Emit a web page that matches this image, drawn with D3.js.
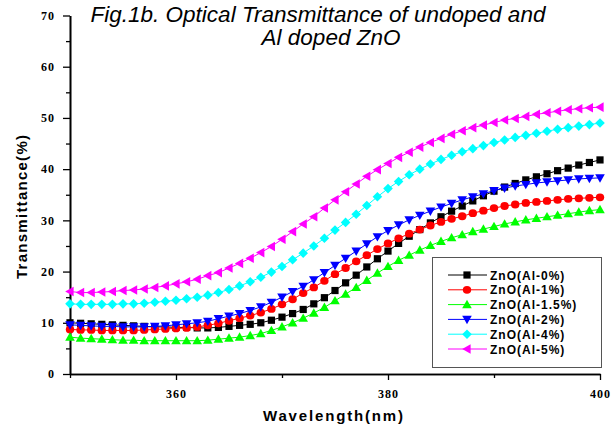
<!DOCTYPE html>
<html><head><meta charset="utf-8">
<script src="https://cdn.jsdelivr.net/npm/d3@7/dist/d3.min.js"></script>
<style>body{margin:0;background:#fff}svg{display:block}</style>
</head><body><svg id="c" width="612" height="427"></svg>
<script>
const wavelength = [350,351,352,353,354,355,356,357,358,359,360,361,362,363,364,365,366,367,368,369,370,371,372,373,374,375,376,377,378,379,380,381,382,383,384,385,386,387,388,389,390,391,392,393,394,395,396,397,398,399,400];
const al0  = [10.0,9.9,9.8,9.7,9.6,9.5,9.4,9.3,9.2,9.2,9.1,9.1,9.0,9.0,9.1,9.3,9.5,9.7,10.0,10.5,11.1,11.8,12.6,13.7,14.9,16.3,17.8,19.3,20.9,22.5,24.0,25.5,26.9,28.2,29.5,30.7,31.8,32.8,33.8,34.8,35.7,36.5,37.2,37.9,38.5,39.1,39.7,40.2,40.8,41.3,41.8];
const al1  = [8.7,8.6,8.6,8.5,8.5,8.5,8.5,8.6,8.7,8.8,8.9,9.0,9.2,9.5,9.9,10.4,10.9,11.4,12.0,12.7,13.6,14.6,15.8,16.9,18.2,19.5,20.7,22.0,23.2,24.4,25.5,26.5,27.4,28.2,29.0,29.7,30.3,30.8,31.4,31.9,32.4,32.8,33.1,33.4,33.6,33.8,34.0,34.2,34.3,34.4,34.5];
const al15 = [7.2,7.0,6.9,6.8,6.7,6.6,6.6,6.5,6.5,6.5,6.5,6.5,6.5,6.6,6.8,7.0,7.2,7.5,7.9,8.5,9.2,10.0,10.9,11.9,13.0,14.3,15.6,16.9,18.3,19.7,21.0,22.2,23.2,24.2,25.1,25.9,26.6,27.2,27.8,28.3,28.8,29.3,29.7,30.1,30.4,30.7,31.0,31.3,31.6,31.9,32.1];
const al2  = [9.6,9.5,9.4,9.3,9.3,9.2,9.2,9.2,9.3,9.4,9.6,9.8,10.0,10.3,10.8,11.3,11.8,12.4,13.1,14.0,15.0,16.1,17.1,18.4,19.8,21.2,22.6,24.0,25.4,26.8,28.0,29.1,30.1,31.0,31.8,32.6,33.3,34.0,34.6,35.2,35.8,36.3,36.7,37.0,37.3,37.5,37.7,37.9,38.1,38.2,38.3];
const al4  = [13.7,13.6,13.6,13.6,13.6,13.7,13.7,13.8,14.0,14.2,14.4,14.7,15.0,15.4,15.9,16.5,17.2,18.0,18.9,19.9,21.0,22.3,23.6,25.0,26.5,28.1,29.6,31.2,32.9,34.6,36.2,37.6,38.9,40.0,41.0,41.9,42.7,43.4,44.0,44.6,45.2,45.7,46.2,46.6,47.0,47.4,47.8,48.1,48.4,48.7,49.0];
const al5  = [16.1,15.9,15.9,16.0,16.1,16.3,16.4,16.6,16.9,17.2,17.6,18.0,18.5,19.2,19.8,20.7,21.6,22.6,23.7,24.9,26.3,27.8,29.3,30.7,32.4,34.0,35.6,37.1,38.6,39.9,41.1,42.3,43.3,44.3,45.2,46.0,46.8,47.5,48.1,48.6,49.1,49.6,49.9,50.3,50.7,51.0,51.3,51.6,51.8,52.0,52.1];
const seriesNames  = ["ZnO(Al-0%)","ZnO(Al-1%)","ZnO(Al-1.5%)","ZnO(Al-2%)","ZnO(Al-4%)","ZnO(Al-5%)"];
const seriesValues = [al0, al1, al15, al2, al4, al5];
const seriesColors = ["#000000","#ff0000","#00ff00","#0000ff","#00ffff","#ff00ff"];
const seriesShapes = ["square","circle","triUp","triDown","diamond","triLeft"];
const xMajorTicks = [360,380,400];
const xMinorTicks = [350,370,390];
const yMajorTicks = [0,10,20,30,40,50,60,70];
const yMinorTicks = [5,15,25,35,45,55,65];
const titleLines = ["Fig.1b. Optical Transmittance of undoped and","Al doped ZnO"];

const svg = d3.select("#c");
svg.append("rect").attr("width",612).attr("height",427).attr("fill","#fff");
const x = d3.scaleLinear().domain([350,400]).range([70,600]);
const y = d3.scaleLinear().domain([0,70]).range([374,15.5]);

function shapePath(s){
  switch(s){
    case "square": return "M-3.6,-3.6H3.6V3.6H-3.6Z";
    case "circle": return "M-4.2,0A4.2,3.9 0 1,0 4.2,0A4.2,3.9 0 1,0 -4.2,0Z";
    case "triUp": return "M0,-4.8L4.8,3.6L-4.8,3.6Z";
    case "triDown": return "M0,4.8L4.8,-3.6L-4.8,-3.6Z";
    case "diamond": return "M0,-4.8L4.8,0L0,4.8L-4.8,0Z";
    case "triLeft": return "M-4.8,0L3.6,-4.8L3.6,4.8Z";
  }
}

// axes
const axY = svg.append("g").attr("transform","translate(70,0)")
  .call(d3.axisLeft(y).tickValues(yMajorTicks).tickSize(7).tickSizeOuter(0).tickPadding(8));
const axYm = svg.append("g").attr("transform","translate(70,0)")
  .call(d3.axisLeft(y).tickValues(yMinorTicks).tickSize(4).tickSizeOuter(0).tickFormat(""));
const axX = svg.append("g").attr("transform","translate(0,374)")
  .call(d3.axisBottom(x).tickValues(xMajorTicks).tickSize(6).tickSizeOuter(0).tickPadding(9));
const axXm = svg.append("g").attr("transform","translate(0,374)")
  .call(d3.axisBottom(x).tickValues(xMinorTicks).tickSize(4).tickSizeOuter(0).tickFormat(""));
[axY,axYm,axX,axXm].forEach(a=>{
  a.selectAll("path.domain").attr("stroke","#000").attr("stroke-width",1.6);
  a.selectAll(".tick line").attr("stroke","#000").attr("stroke-width",1.3);
  a.selectAll(".tick text").attr("font-family","'Liberation Serif', serif").attr("font-weight","bold")
    .attr("font-size",12).attr("letter-spacing","1px").attr("fill","#000");
});

// series
const line = d3.line().x((d,i)=>x(wavelength[i])).y(d=>y(d));
seriesValues.forEach((vals,k)=>{
  const g = svg.append("g");
  g.append("path").datum(vals).attr("d",line).attr("fill","none")
    .attr("stroke",seriesColors[k]).attr("stroke-width",1);
  g.selectAll("path.m").data(vals).enter().append("path").attr("class","m")
    .attr("d",shapePath(seriesShapes[k]))
    .attr("transform",(d,i)=>`translate(${x(wavelength[i])},${y(d)})`)
    .attr("fill",seriesColors[k]);
});

// title
svg.append("text").attr("x",318).attr("y",22).attr("text-anchor","middle")
  .attr("font-family","'Liberation Sans', Arial, sans-serif").attr("font-style","italic")
  .attr("font-size",22.5).text(titleLines[0]);
svg.append("text").attr("x",331).attr("y",45).attr("text-anchor","middle")
  .attr("font-family","'Liberation Sans', Arial, sans-serif").attr("font-style","italic")
  .attr("font-size",22.5).text(titleLines[1]);

// axis titles
svg.append("text").attr("transform","translate(27,207) rotate(-90)").attr("text-anchor","middle")
  .attr("font-family","'Liberation Sans', Arial, sans-serif").attr("font-weight","bold")
  .attr("font-size",15).attr("textLength",144).attr("lengthAdjust","spacing").text("Transmittance(%)");
svg.append("text").attr("x",333).attr("y",421).attr("text-anchor","middle")
  .attr("font-family","'Liberation Sans', Arial, sans-serif").attr("font-weight","bold")
  .attr("font-size",15).attr("textLength",140).attr("lengthAdjust","spacing").text("Wavelength(nm)");

// legend
const lg = svg.append("g");
lg.append("rect").attr("x",432.5).attr("y",257.5).attr("width",169).attr("height",110)
  .attr("fill","#fff").attr("stroke","#555").attr("stroke-width",1);
seriesNames.forEach((n,k)=>{
  const yy = 275 + k*14.8;
  lg.append("line").attr("x1",448).attr("x2",487).attr("y1",yy).attr("y2",yy)
    .attr("stroke",seriesColors[k]).attr("stroke-width",1);
  lg.append("path").attr("d",shapePath(seriesShapes[k])).attr("transform",`translate(467,${yy})`)
    .attr("fill",seriesColors[k]);
  lg.append("text").attr("x",490).attr("y",yy+4.5)
    .attr("font-family","'Liberation Sans', Arial, sans-serif").attr("font-weight","bold")
    .attr("font-size",12).attr("letter-spacing","1px").text(n);
});
</script></body></html>
